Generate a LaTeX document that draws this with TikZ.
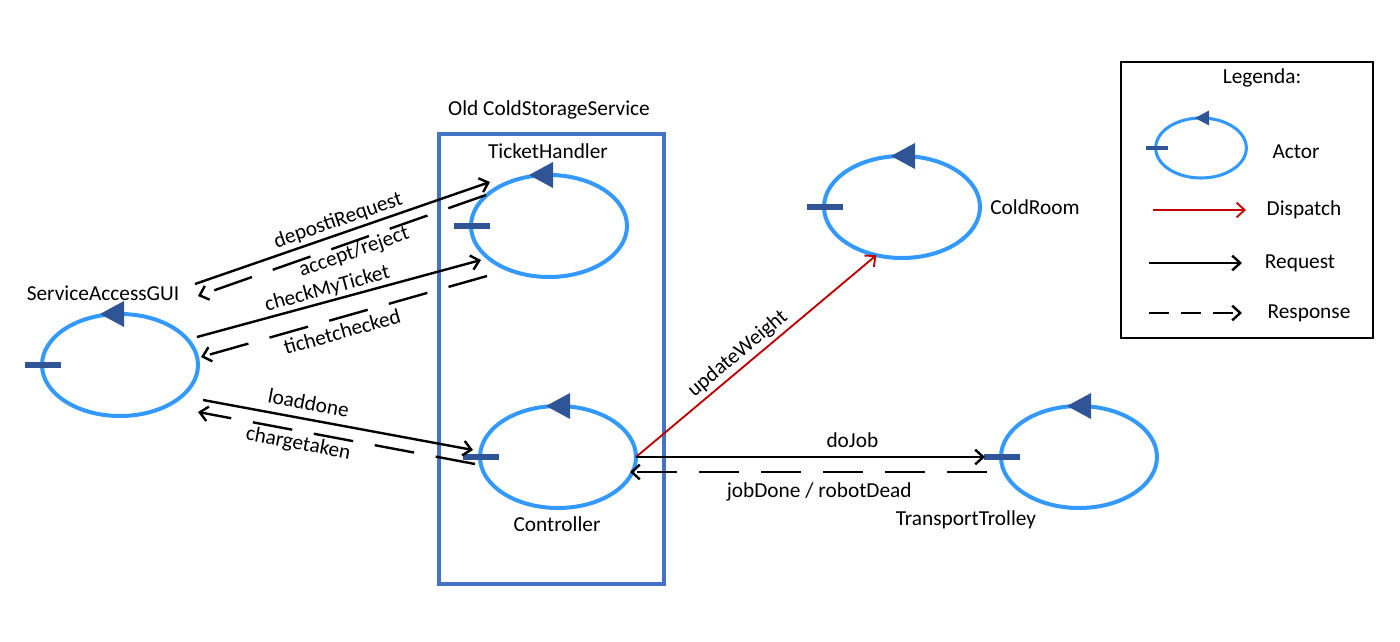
\documentclass[tikz,border=0pt]{standalone}
\usepackage{fontspec}
\setmainfont{Carlito}
\usetikzlibrary{shapes.geometric,arrows.meta}
\definecolor{actline}{HTML}{3399FF}
\definecolor{actmark}{HTML}{2F5597}
\definecolor{boxblue}{HTML}{4472C4}
\definecolor{dispred}{HTML}{C00000}
\tikzset{
  actor/.style={ellipse, draw=actline, line width=3pt, minimum width=117pt,
    minimum height=76.5pt, inner sep=0pt, outer sep=0pt},
  req/.style={line width=1.8pt, -{Straight Barb[length=6pt,width=11pt]}},
  resp/.style={req, dash pattern=on 30pt off 16.5pt},
  disp/.style={req, draw=dispred, line width=1.4pt},
  lbl/.style={font=\fontsize{16}{19}\selectfont},
  msg/.style={lbl, sloped, inner sep=0pt},
}
\begin{document}
\begin{tikzpicture}[x=0.75pt,y=-0.75pt]
\useasboundingbox (0,0) rectangle (1400,642);

% old service box
\draw[boxblue, line width=2.6pt] (439,134) rectangle (664,584);
\node[lbl] (oldcss) at (549,110) {Old ColdStorageService};

% actors
\node[actor] (gui) at (120,365) {};
\node[actor] (th) at (549,226) {};
\node[actor] (ctrl) at (558,457) {};
\node[actor] (cr) at (902,207) {};
\node[actor] (tt) at (1079,457) {};
\foreach \n/\s in {gui/-20,th/-20,ctrl/-12,cr/-11,tt/-12}{
  \fill[actmark] ([xshift=-12.75pt,yshift=-2.6pt]\n.west) rectangle ([xshift=14.25pt,yshift=2.6pt]\n.west);
  \fill[actmark] ([xshift={\s*0.75pt}]\n.north) -- ++(18pt,9.75pt) -- ++(0,-19.5pt) -- cycle;
}
\node[lbl] (guilbl) at (103,293) {ServiceAccessGUI};
\node[lbl] (thlbl) at (548,151) {TicketHandler};
\node[lbl] (ctrllbl) at (557,524) {Controller};
\node[lbl] (crlbl) at (1035,207) {ColdRoom};
\node[lbl] (ttlbl) at (966,520) {TransportTrolley};

% message ends
\coordinate (depS) at (195,284);
\coordinate (depE) at (490,182);
\coordinate (accS) at (486,195);
\coordinate (accE) at (198,296);
\coordinate (chkS) at (197,337);
\coordinate (chkE) at (481,260);
\coordinate (tcS) at (487,276);
\coordinate (tcE) at (201,357);
\coordinate (ldS) at (203,400);
\coordinate (ldE) at (473,450);
\coordinate (cgS) at (475,464);
\coordinate (cgE) at (198,412);

% messages
\draw[req] (depS) -- node[msg, above=2pt, pos=0.5] {depostiRequest} (depE);
\draw[resp] (accS) -- node[msg, below=0pt, pos=0.47] {accept/reject} (accE);
\draw[req] (chkS) -- node[msg, above=1.4pt, pos=0.47] {checkMyTicket} (chkE);
\draw[resp] (tcS) -- node[msg, below=3.9pt, pos=0.52] {tichetchecked} (tcE);
\draw[req] (ldS) -- node[msg, above=6pt, pos=0.38] {loaddone} (ldE);
\draw[resp] (cgS) -- node[msg, below=2pt, pos=0.63] {chargetaken} (cgE);
\draw[disp] (ctrl.east) -- node[msg, above=2.6pt, pos=0.46] {updateWeight} (cr.242);
\draw[req] (ctrl.east) -- node[msg, above=6pt, pos=0.62] {doJob} ([xshift=-12pt]tt.west);
\draw[resp] ([xshift=-10.5pt,yshift=-11.25pt]tt.west) -- node[msg, below=7pt, pos=0.47] {jobDone / robotDead} ([xshift=-4.5pt,yshift=-11.25pt]ctrl.east);

% legend
\draw[line width=1.2pt] (1121,62) rectangle (1373,338);
\node[lbl] (leg) at (1262,78) {Legenda:};
\node[actor, minimum width=68pt, minimum height=45pt, line width=2.3pt] (legact) at (1201,148) {};
\fill[actmark] ([xshift=-7.5pt,yshift=-1.6pt]legact.west) rectangle ([xshift=9pt,yshift=1.6pt]legact.west);
\fill[actmark] ([xshift=-4.5pt]legact.north) -- ++(10.5pt,5.6pt) -- ++(0,-11.2pt) -- cycle;
\node[lbl] (legactlbl) at (1296,152) {Actor};
\coordinate (dispS) at (1153,210);
\coordinate (dispE) at (1246,210);
\coordinate (reqS) at (1149,263);
\coordinate (reqE) at (1242,263);
\coordinate (respS) at (1149,313);
\coordinate (respE) at (1242,313);
\draw[disp] (dispS) -- (dispE);
\draw[req] (reqS) -- (reqE);
\draw[resp, dash pattern=on 15pt off 9pt] (respS) -- (respE);
\node[lbl] (displbl) at (1304,210) {Dispatch};
\node[lbl] (reqlbl) at (1300,263) {Request};
\node[lbl] (resplbl) at (1309,313) {Response};
\end{tikzpicture}
\end{document}
